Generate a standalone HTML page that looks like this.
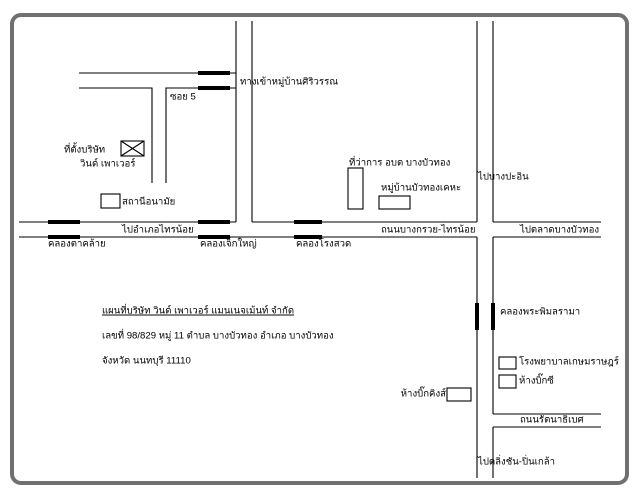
<!DOCTYPE html>
<html><head><meta charset="utf-8"><style>
html,body{margin:0;padding:0;background:#fff;}
svg{display:block;}
text{font-family:"Liberation Sans","Noto Sans CJK SC",sans-serif;font-size:9.6px;fill:#000;dominant-baseline:middle;}
</style></head><body>
<svg width="641" height="500" viewBox="0 0 641 500">
<rect x="12" y="15" width="615" height="468" rx="9" fill="none" stroke="#707070" stroke-width="4"/>
<g stroke="#000" stroke-width="1.1" fill="none">
<line x1="236" y1="21" x2="236" y2="222"/>
<line x1="252" y1="21" x2="252" y2="222"/>
<line x1="79" y1="73" x2="236" y2="73"/>
<polyline points="79,88 152,88 152,183"/>
<polyline points="166,183 166,88 236,88"/>
<line x1="19" y1="222" x2="236" y2="222"/>
<line x1="252" y1="222" x2="477" y2="222"/>
<line x1="19" y1="237" x2="477" y2="237"/>
<line x1="477" y1="21" x2="477" y2="222"/>
<line x1="477" y1="237" x2="477" y2="478"/>
<line x1="493" y1="21" x2="493" y2="222"/>
<line x1="493" y1="237" x2="493" y2="414"/>
<line x1="493" y1="427" x2="493" y2="478"/>
<line x1="493" y1="222" x2="601" y2="222"/>
<line x1="493" y1="237" x2="601" y2="237"/>
<line x1="493" y1="414" x2="601" y2="414"/>
<line x1="493" y1="427" x2="601" y2="427"/>
<rect x="121" y="141" width="23" height="15"/>
<line x1="121" y1="141" x2="144" y2="156"/>
<line x1="144" y1="141" x2="121" y2="156"/>
<rect x="101" y="194" width="19" height="14"/>
<rect x="348" y="168" width="15" height="41"/>
<rect x="379" y="196" width="31" height="13"/>
<rect x="499" y="357" width="17" height="12"/>
<rect x="499" y="375" width="17" height="13"/>
<rect x="447" y="388" width="24" height="13"/>
</g>
<g stroke="#000" stroke-width="4">
<line x1="198" y1="73" x2="230" y2="73"/>
<line x1="198" y1="88" x2="230" y2="88"/>
<line x1="48" y1="222" x2="80" y2="222"/>
<line x1="48" y1="237" x2="80" y2="237"/>
<line x1="198" y1="222" x2="230" y2="222"/>
<line x1="198" y1="237" x2="230" y2="237"/>
<line x1="294" y1="222" x2="322" y2="222"/>
<line x1="294" y1="237" x2="322" y2="237"/>
<line x1="477" y1="303" x2="477" y2="330"/>
<line x1="493" y1="303" x2="493" y2="330"/>
</g>
<text x="240" y="82">ทางเข้าหมู่บ้านศิริวรรณ</text>
<text x="170" y="97">ซอย 5</text>
<text x="64" y="150">ที่ตั้งบริษัท</text>
<text x="80" y="164">วินด์ เพาเวอร์</text>
<text x="122" y="202">สถานีอนามัย</text>
<text x="122" y="230">ไปอำเภอไทรน้อย</text>
<text x="48" y="244">คลองตาคล้าย</text>
<text x="200" y="244">คลองเจ็กใหญ่</text>
<text x="296" y="244">คลองโรงสวด</text>
<text x="349" y="163">ที่ว่าการ อบต บางบัวทอง</text>
<text x="381" y="188">หมู่บ้านบัวทองเคหะ</text>
<text x="478" y="177">ไปบางปะอิน</text>
<text x="381" y="230">ถนนบางกรวย-ไทรน้อย</text>
<text x="520" y="230">ไปตลาดบางบัวทอง</text>
<text x="500" y="312">คลองพระพิมลรามา</text>
<text x="519" y="362">โรงพยาบาลเกษมราษฎร์</text>
<text x="519" y="381">ห้างบิ๊กซี</text>
<text x="446" y="394" text-anchor="end">ห้างบิ๊กคิงส์</text>
<text x="520" y="420">ถนนรัตนาธิเบศ</text>
<text x="478" y="462">ไปตลิ่งชัน-ปิ่นเกล้า</text>
<text x="102" y="311" text-decoration="underline">แผนที่บริษัท วินด์ เพาเวอร์ แมนเนจเม้นท์ จำกัด</text>
<text x="102" y="336">เลขที่ 98/829 หมู่ 11 ตำบล บางบัวทอง อำเภอ บางบัวทอง</text>
<text x="102" y="361">จังหวัด นนทบุรี 11110</text>
</svg>
</body></html>
